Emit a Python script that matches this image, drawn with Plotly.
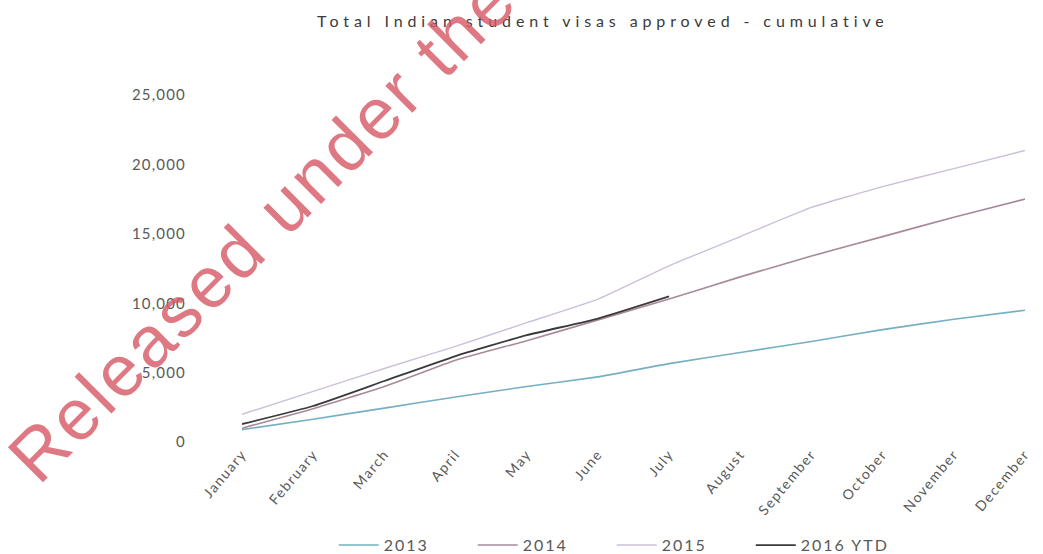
import plotly.graph_objects as go

# Cumulative Indian student visas approved, by month
months = ["January", "February", "March", "April", "May", "June",
          "July", "August", "September", "October", "November", "December"]

visas_2013 = [900, 1650, 2450, 3250, 4000, 4700, 5650, 6450, 7250, 8100, 8850, 9500]
visas_2014 = [1000, 2400, 4000, 5900, 7300, 8800, 10300, 11900, 13400, 14800, 16200, 17500]
visas_2015 = [2000, 3650, 5300, 6900, 8600, 10300, 12700, 14800, 16900, 18400, 19700, 21000]
visas_2016_ytd = [1300, 2600, 4400, 6200, 7700, 8900, 10500]

series_names = ["2013", "2014", "2015", "2016 YTD"]
series_colors = ["#74b0c2", "#a8899a", "#cbc0d8", "#3a3a3a"]
series_widths = [1.6, 1.6, 1.4, 1.8]

y_ticks = [0, 5000, 10000, 15000, 20000, 25000]
y_tick_labels = ["0", "5,000", "10,000", "15,000", "20,000", "25,000"]

title_text = "Total Indian student visas approved - cumulative"
watermark_text = "Released under the"

TEXT_GREY = "#595959"
FONT = "Lato, 'Open Sans', sans-serif"


def spaced(text, px):
    return f'<span style="letter-spacing:{px}px">{text}</span>'


fig = go.Figure()
all_series = [visas_2013, visas_2014, visas_2015, visas_2016_ytd]
for name, values, color, width in zip(series_names, all_series, series_colors, series_widths):
    fig.add_trace(go.Scatter(
        x=months[:len(values)],
        y=values,
        mode="lines",
        name=spaced(name, 2),
        line=dict(color=color, width=width, shape="spline", smoothing=0.4),
    ))

fig.update_layout(
    width=1043,
    height=554,
    margin=dict(l=242, r=10, t=95, b=111),
    paper_bgcolor="white",
    plot_bgcolor="white",
    font=dict(family=FONT, color=TEXT_GREY),
    title=dict(
        text=spaced(title_text, 4.9),
        font=dict(family=FONT, size=16, color="#3a3a3a"),
        xref="container", x=0.578, xanchor="center",
        yref="container", y=0.962, yanchor="middle",
    ),
    xaxis=dict(
        type="category",
        categoryorder="array",
        categoryarray=months,
        tickvals=months,
        ticktext=[spaced(m, 1.5) for m in months],
        range=[0, 11],
        showgrid=False,
        zeroline=False,
        showline=False,
        ticks="",
        tickangle=-50,
        tickfont=dict(family=FONT, size=14, color=TEXT_GREY),
    ),
    yaxis=dict(
        range=[0, 25000],
        tickvals=y_ticks,
        ticktext=[spaced(t, 1.2) for t in y_tick_labels],
        showgrid=False,
        zeroline=False,
        showline=False,
        ticks="",
        ticklabelstandoff=55,
        tickfont=dict(family=FONT, size=15, color=TEXT_GREY),
    ),
    legend=dict(
        orientation="h",
        xref="container", x=0.320, xanchor="left",
        yref="container", y=0.016, yanchor="middle",
        font=dict(family=FONT, size=16, color=TEXT_GREY),
        bgcolor="rgba(0,0,0,0)",
        itemwidth=40,
        entrywidth=84,
        entrywidthmode="pixels",
        tracegroupgap=0,
    ),
    showlegend=True,
)

# Diagonal release stamp across the upper-left of the chart
fig.add_annotation(
    text=spaced(watermark_text, 3),
    xref="paper", yref="paper",
    x=0.025, y=0.618,
    xanchor="center", yanchor="middle",
    textangle=-45,
    showarrow=False,
    font=dict(family="Liberation Sans, Arial, sans-serif", size=72,
              color="rgba(214,88,100,0.8)"),
)

fig.write_html("out.html")
